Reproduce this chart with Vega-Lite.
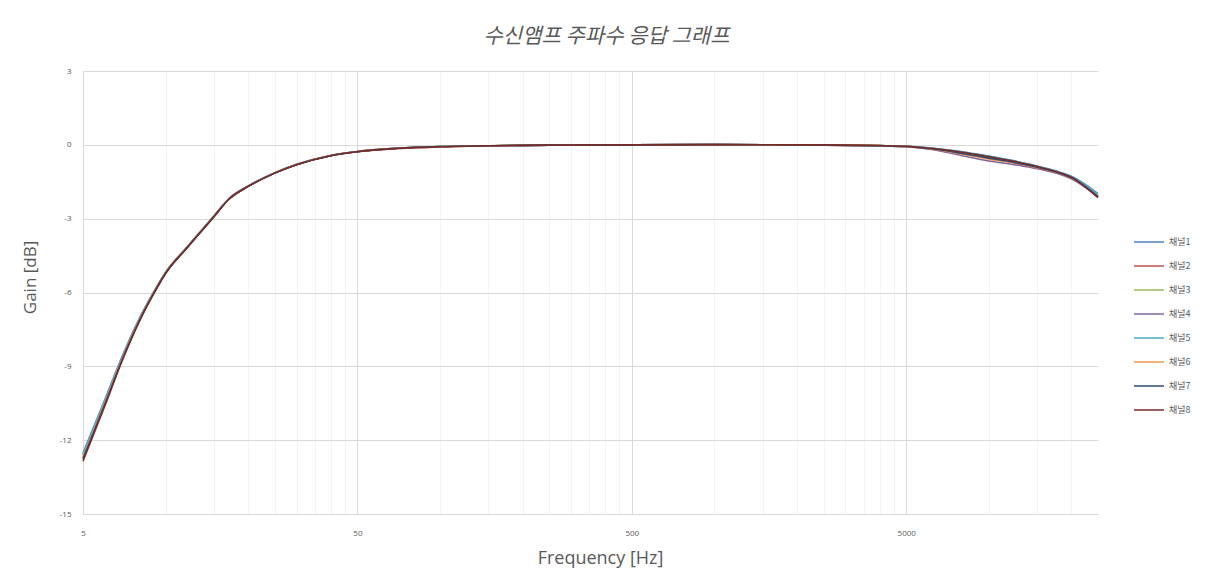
{
  "$schema": "https://vega.github.io/schema/vega-lite/v6.json",
  "width": 1015,
  "height": 443,
  "autosize": "none",
  "padding": {"left": 83, "top": 71, "right": 107, "bottom": 59},
  "background": "white",
  "config": {"view": {"stroke": null}, "font": "Open Sans"},
  "title": {
    "text": "수신앰프 주파수 응답 그래프",
    "font": "Noto Sans CJK KR",
    "fontSize": 21,
    "fontStyle": "italic",
    "fontWeight": "normal",
    "color": "#595959",
    "anchor": "middle",
    "baseline": "bottom",
    "offset": -1,
    "dx": 16
  },
  "data": {"values": [
    {"ch":"채널1","f":5,"g":-12.52},{"ch":"채널1","f":6,"g":-10.36},{"ch":"채널1","f":7,"g":-8.5},{"ch":"채널1","f":8,"g":-7.08},{"ch":"채널1","f":9,"g":-6.02},{"ch":"채널1","f":10,"g":-5.17},{"ch":"채널1","f":12,"g":-4.13},{"ch":"채널1","f":15,"g":-2.88},{"ch":"채널1","f":17,"g":-2.18},{"ch":"채널1","f":20,"g":-1.67},{"ch":"채널1","f":25,"g":-1.13},{"ch":"채널1","f":30,"g":-0.79},{"ch":"채널1","f":40,"g":-0.43},{"ch":"채널1","f":50,"g":-0.27},{"ch":"채널1","f":70,"g":-0.14},{"ch":"채널1","f":100,"g":-0.07},{"ch":"채널1","f":150,"g":-0.04},{"ch":"채널1","f":200,"g":-0.02},{"ch":"채널1","f":300,"g":-0.01},{"ch":"채널1","f":500,"g":0.0},{"ch":"채널1","f":1000,"g":0.01},{"ch":"채널1","f":2000,"g":0.0},{"ch":"채널1","f":3000,"g":-0.01},{"ch":"채널1","f":4000,"g":-0.03},{"ch":"채널1","f":5000,"g":-0.06},{"ch":"채널1","f":6000,"g":-0.12},{"ch":"채널1","f":7000,"g":-0.2},{"ch":"채널1","f":8000,"g":-0.28},{"ch":"채널1","f":10000,"g":-0.46},{"ch":"채널1","f":12000,"g":-0.62},{"ch":"채널1","f":14000,"g":-0.78},{"ch":"채널1","f":16000,"g":-0.94},{"ch":"채널1","f":18000,"g":-1.1},{"ch":"채널1","f":20000,"g":-1.28},{"ch":"채널1","f":25000,"g":-1.98},
    {"ch":"채널2","f":5,"g":-12.72},{"ch":"채널2","f":6,"g":-10.52},{"ch":"채널2","f":7,"g":-8.62},{"ch":"채널2","f":8,"g":-7.16},{"ch":"채널2","f":9,"g":-6.08},{"ch":"채널2","f":10,"g":-5.21},{"ch":"채널2","f":12,"g":-4.16},{"ch":"채널2","f":15,"g":-2.91},{"ch":"채널2","f":17,"g":-2.21},{"ch":"채널2","f":20,"g":-1.69},{"ch":"채널2","f":25,"g":-1.15},{"ch":"채널2","f":30,"g":-0.81},{"ch":"채널2","f":40,"g":-0.44},{"ch":"채널2","f":50,"g":-0.28},{"ch":"채널2","f":70,"g":-0.15},{"ch":"채널2","f":100,"g":-0.08},{"ch":"채널2","f":150,"g":-0.04},{"ch":"채널2","f":200,"g":-0.02},{"ch":"채널2","f":300,"g":-0.01},{"ch":"채널2","f":500,"g":0.0},{"ch":"채널2","f":1000,"g":0.01},{"ch":"채널2","f":2000,"g":0.0},{"ch":"채널2","f":3000,"g":-0.02},{"ch":"채널2","f":4000,"g":-0.04},{"ch":"채널2","f":5000,"g":-0.07},{"ch":"채널2","f":6000,"g":-0.14},{"ch":"채널2","f":7000,"g":-0.22},{"ch":"채널2","f":8000,"g":-0.32},{"ch":"채널2","f":10000,"g":-0.5},{"ch":"채널2","f":12000,"g":-0.66},{"ch":"채널2","f":14000,"g":-0.82},{"ch":"채널2","f":16000,"g":-0.98},{"ch":"채널2","f":18000,"g":-1.14},{"ch":"채널2","f":20000,"g":-1.34},{"ch":"채널2","f":25000,"g":-2.08},
    {"ch":"채널3","f":5,"g":-12.62},{"ch":"채널3","f":6,"g":-10.44},{"ch":"채널3","f":7,"g":-8.56},{"ch":"채널3","f":8,"g":-7.12},{"ch":"채널3","f":9,"g":-6.05},{"ch":"채널3","f":10,"g":-5.19},{"ch":"채널3","f":12,"g":-4.15},{"ch":"채널3","f":15,"g":-2.9},{"ch":"채널3","f":17,"g":-2.2},{"ch":"채널3","f":20,"g":-1.68},{"ch":"채널3","f":25,"g":-1.14},{"ch":"채널3","f":30,"g":-0.8},{"ch":"채널3","f":40,"g":-0.43},{"ch":"채널3","f":50,"g":-0.27},{"ch":"채널3","f":70,"g":-0.14},{"ch":"채널3","f":100,"g":-0.07},{"ch":"채널3","f":150,"g":-0.04},{"ch":"채널3","f":200,"g":-0.02},{"ch":"채널3","f":300,"g":-0.01},{"ch":"채널3","f":500,"g":0.0},{"ch":"채널3","f":1000,"g":0.01},{"ch":"채널3","f":2000,"g":0.0},{"ch":"채널3","f":3000,"g":-0.01},{"ch":"채널3","f":4000,"g":-0.03},{"ch":"채널3","f":5000,"g":-0.06},{"ch":"채널3","f":6000,"g":-0.13},{"ch":"채널3","f":7000,"g":-0.21},{"ch":"채널3","f":8000,"g":-0.31},{"ch":"채널3","f":10000,"g":-0.49},{"ch":"채널3","f":12000,"g":-0.65},{"ch":"채널3","f":14000,"g":-0.81},{"ch":"채널3","f":16000,"g":-0.97},{"ch":"채널3","f":18000,"g":-1.13},{"ch":"채널3","f":20000,"g":-1.33},{"ch":"채널3","f":25000,"g":-2.06},
    {"ch":"채널4","f":5,"g":-12.68},{"ch":"채널4","f":6,"g":-10.48},{"ch":"채널4","f":7,"g":-8.59},{"ch":"채널4","f":8,"g":-7.14},{"ch":"채널4","f":9,"g":-6.07},{"ch":"채널4","f":10,"g":-5.2},{"ch":"채널4","f":12,"g":-4.16},{"ch":"채널4","f":15,"g":-2.91},{"ch":"채널4","f":17,"g":-2.21},{"ch":"채널4","f":20,"g":-1.68},{"ch":"채널4","f":25,"g":-1.14},{"ch":"채널4","f":30,"g":-0.8},{"ch":"채널4","f":40,"g":-0.43},{"ch":"채널4","f":50,"g":-0.27},{"ch":"채널4","f":70,"g":-0.14},{"ch":"채널4","f":100,"g":-0.07},{"ch":"채널4","f":150,"g":-0.04},{"ch":"채널4","f":200,"g":-0.02},{"ch":"채널4","f":300,"g":-0.01},{"ch":"채널4","f":500,"g":0.0},{"ch":"채널4","f":1000,"g":0.01},{"ch":"채널4","f":2000,"g":0.0},{"ch":"채널4","f":3000,"g":-0.02},{"ch":"채널4","f":4000,"g":-0.04},{"ch":"채널4","f":5000,"g":-0.08},{"ch":"채널4","f":6000,"g":-0.17},{"ch":"채널4","f":7000,"g":-0.3},{"ch":"채널4","f":8000,"g":-0.44},{"ch":"채널4","f":10000,"g":-0.66},{"ch":"채널4","f":12000,"g":-0.78},{"ch":"채널4","f":14000,"g":-0.9},{"ch":"채널4","f":16000,"g":-1.04},{"ch":"채널4","f":18000,"g":-1.18},{"ch":"채널4","f":20000,"g":-1.38},{"ch":"채널4","f":25000,"g":-2.12},
    {"ch":"채널5","f":5,"g":-12.58},{"ch":"채널5","f":6,"g":-10.42},{"ch":"채널5","f":7,"g":-8.54},{"ch":"채널5","f":8,"g":-7.1},{"ch":"채널5","f":9,"g":-6.04},{"ch":"채널5","f":10,"g":-5.18},{"ch":"채널5","f":12,"g":-4.14},{"ch":"채널5","f":15,"g":-2.89},{"ch":"채널5","f":17,"g":-2.19},{"ch":"채널5","f":20,"g":-1.67},{"ch":"채널5","f":25,"g":-1.13},{"ch":"채널5","f":30,"g":-0.79},{"ch":"채널5","f":40,"g":-0.43},{"ch":"채널5","f":50,"g":-0.27},{"ch":"채널5","f":70,"g":-0.14},{"ch":"채널5","f":100,"g":-0.07},{"ch":"채널5","f":150,"g":-0.04},{"ch":"채널5","f":200,"g":-0.02},{"ch":"채널5","f":300,"g":-0.01},{"ch":"채널5","f":500,"g":0.0},{"ch":"채널5","f":1000,"g":0.01},{"ch":"채널5","f":2000,"g":0.0},{"ch":"채널5","f":3000,"g":-0.01},{"ch":"채널5","f":4000,"g":-0.03},{"ch":"채널5","f":5000,"g":-0.06},{"ch":"채널5","f":6000,"g":-0.12},{"ch":"채널5","f":7000,"g":-0.21},{"ch":"채널5","f":8000,"g":-0.3},{"ch":"채널5","f":10000,"g":-0.47},{"ch":"채널5","f":12000,"g":-0.63},{"ch":"채널5","f":14000,"g":-0.79},{"ch":"채널5","f":16000,"g":-0.95},{"ch":"채널5","f":18000,"g":-1.11},{"ch":"채널5","f":20000,"g":-1.3},{"ch":"채널5","f":25000,"g":-2.0},
    {"ch":"채널6","f":5,"g":-12.7},{"ch":"채널6","f":6,"g":-10.5},{"ch":"채널6","f":7,"g":-8.6},{"ch":"채널6","f":8,"g":-7.15},{"ch":"채널6","f":9,"g":-6.07},{"ch":"채널6","f":10,"g":-5.2},{"ch":"채널6","f":12,"g":-4.15},{"ch":"채널6","f":15,"g":-2.9},{"ch":"채널6","f":17,"g":-2.2},{"ch":"채널6","f":20,"g":-1.68},{"ch":"채널6","f":25,"g":-1.14},{"ch":"채널6","f":30,"g":-0.8},{"ch":"채널6","f":40,"g":-0.43},{"ch":"채널6","f":50,"g":-0.27},{"ch":"채널6","f":70,"g":-0.14},{"ch":"채널6","f":100,"g":-0.07},{"ch":"채널6","f":150,"g":-0.04},{"ch":"채널6","f":200,"g":-0.02},{"ch":"채널6","f":300,"g":-0.01},{"ch":"채널6","f":500,"g":0.0},{"ch":"채널6","f":1000,"g":0.01},{"ch":"채널6","f":2000,"g":0.0},{"ch":"채널6","f":3000,"g":-0.01},{"ch":"채널6","f":4000,"g":-0.03},{"ch":"채널6","f":5000,"g":-0.07},{"ch":"채널6","f":6000,"g":-0.15},{"ch":"채널6","f":7000,"g":-0.26},{"ch":"채널6","f":8000,"g":-0.38},{"ch":"채널6","f":10000,"g":-0.58},{"ch":"채널6","f":12000,"g":-0.72},{"ch":"채널6","f":14000,"g":-0.86},{"ch":"채널6","f":16000,"g":-1.0},{"ch":"채널6","f":18000,"g":-1.15},{"ch":"채널6","f":20000,"g":-1.35},{"ch":"채널6","f":25000,"g":-2.09},
    {"ch":"채널7","f":5,"g":-12.76},{"ch":"채널7","f":6,"g":-10.55},{"ch":"채널7","f":7,"g":-8.64},{"ch":"채널7","f":8,"g":-7.18},{"ch":"채널7","f":9,"g":-6.09},{"ch":"채널7","f":10,"g":-5.22},{"ch":"채널7","f":12,"g":-4.17},{"ch":"채널7","f":15,"g":-2.92},{"ch":"채널7","f":17,"g":-2.21},{"ch":"채널7","f":20,"g":-1.69},{"ch":"채널7","f":25,"g":-1.15},{"ch":"채널7","f":30,"g":-0.81},{"ch":"채널7","f":40,"g":-0.44},{"ch":"채널7","f":50,"g":-0.28},{"ch":"채널7","f":70,"g":-0.14},{"ch":"채널7","f":100,"g":-0.07},{"ch":"채널7","f":150,"g":-0.04},{"ch":"채널7","f":200,"g":-0.02},{"ch":"채널7","f":300,"g":-0.01},{"ch":"채널7","f":500,"g":0.0},{"ch":"채널7","f":1000,"g":0.01},{"ch":"채널7","f":2000,"g":0.0},{"ch":"채널7","f":3000,"g":-0.02},{"ch":"채널7","f":4000,"g":-0.04},{"ch":"채널7","f":5000,"g":-0.07},{"ch":"채널7","f":6000,"g":-0.15},{"ch":"채널7","f":7000,"g":-0.24},{"ch":"채널7","f":8000,"g":-0.35},{"ch":"채널7","f":10000,"g":-0.54},{"ch":"채널7","f":12000,"g":-0.69},{"ch":"채널7","f":14000,"g":-0.84},{"ch":"채널7","f":16000,"g":-0.99},{"ch":"채널7","f":18000,"g":-1.14},{"ch":"채널7","f":20000,"g":-1.34},{"ch":"채널7","f":25000,"g":-2.1},
    {"ch":"채널8","f":5,"g":-12.85},{"ch":"채널8","f":6,"g":-10.62},{"ch":"채널8","f":7,"g":-8.68},{"ch":"채널8","f":8,"g":-7.2},{"ch":"채널8","f":9,"g":-6.1},{"ch":"채널8","f":10,"g":-5.23},{"ch":"채널8","f":12,"g":-4.17},{"ch":"채널8","f":15,"g":-2.92},{"ch":"채널8","f":17,"g":-2.21},{"ch":"채널8","f":20,"g":-1.69},{"ch":"채널8","f":25,"g":-1.15},{"ch":"채널8","f":30,"g":-0.81},{"ch":"채널8","f":40,"g":-0.44},{"ch":"채널8","f":50,"g":-0.28},{"ch":"채널8","f":70,"g":-0.15},{"ch":"채널8","f":100,"g":-0.08},{"ch":"채널8","f":150,"g":-0.04},{"ch":"채널8","f":200,"g":-0.02},{"ch":"채널8","f":300,"g":-0.01},{"ch":"채널8","f":500,"g":0.0},{"ch":"채널8","f":1000,"g":0.01},{"ch":"채널8","f":2000,"g":0.0},{"ch":"채널8","f":3000,"g":-0.01},{"ch":"채널8","f":4000,"g":-0.03},{"ch":"채널8","f":5000,"g":-0.06},{"ch":"채널8","f":6000,"g":-0.13},{"ch":"채널8","f":7000,"g":-0.21},{"ch":"채널8","f":8000,"g":-0.3},{"ch":"채널8","f":10000,"g":-0.48},{"ch":"채널8","f":12000,"g":-0.64},{"ch":"채널8","f":14000,"g":-0.8},{"ch":"채널8","f":16000,"g":-0.96},{"ch":"채널8","f":18000,"g":-1.12},{"ch":"채널8","f":20000,"g":-1.32},{"ch":"채널8","f":25000,"g":-2.15}
  ]},
  "mark": {"type": "line", "strokeWidth": 1.6, "interpolate": "monotone"},
  "encoding": {
    "x": {
      "field": "f",
      "type": "quantitative",
      "scale": {"type": "log", "domain": [5, 25000], "nice": false},
      "axis": {
        "title": "Frequency [Hz]",
        "titleFont": "Open Sans",
        "titleFontSize": 18,
        "titleFontWeight": "normal",
        "titleColor": "#595959",
        "titlePadding": 12,
        "titleX": 517,
        "values": [5, 10, 15, 20, 25, 30, 35, 40, 45, 50, 100, 150, 200, 250, 300, 350, 400, 450, 500, 1000, 1500, 2000, 2500, 3000, 3500, 4000, 4500, 5000, 10000, 15000, 20000],
        "labelExpr": "indexof([5,50,500,5000], datum.value) >= 0 ? '' + datum.value : ''",
        "labelFontSize": 8,
        "labelColor": "#595959",
        "labelPadding": 15,
        "labelFlush": false,
        "labelOverlap": false,
        "ticks": false,
        "tickSize": 0,
        "domain": true,
        "domainColor": "#D9D9D9",
        "gridColor": {"condition": {"test": "indexof([5,50,500,5000], datum.value) >= 0", "value": "#D9D9D9"}, "value": "#F3F3F3"},
        "gridWidth": 1
      }
    },
    "y": {
      "field": "g",
      "type": "quantitative",
      "scale": {"domain": [-15, 3], "nice": false, "zero": false},
      "axis": {
        "title": "Gain [dB]",
        "titleFont": "Open Sans",
        "titleFontSize": 17,
        "titleFontWeight": "normal",
        "titleColor": "#595959",
        "titleX": -44,
        "titleY": 206,
        "titleAngle": -90,
        "titleAlign": "center",
        "titleBaseline": "bottom",
        "values": [-15, -12, -9, -6, -3, 0, 3],
        "labelExpr": "'' + datum.value",
        "labelFontSize": 8,
        "labelColor": "#595959",
        "labelPadding": 12,
        "ticks": false,
        "tickSize": 0,
        "domain": false,
        "gridColor": "#D9D9D9"
      }
    },
    "color": {
      "field": "ch",
      "type": "nominal",
      "scale": {
        "domain": ["채널1", "채널2", "채널3", "채널4", "채널5", "채널6", "채널7", "채널8"],
        "range": ["#4F81BD", "#C0504D", "#9BBB59", "#8064A2", "#4BACC6", "#F79646", "#2C4D75", "#772C2A"]
      },
      "legend": {
        "title": null,
        "orient": "none",
        "legendX": 1050,
        "legendY": 155,
        "padding": 0,
        "symbolType": "stroke",
        "symbolSize": 900,
        "symbolStrokeWidth": 1.5,
        "labelFont": "Noto Sans CJK KR",
        "labelFontSize": 9,
        "labelColor": "#595959",
        "labelOffset": 4,
        "rowPadding": 3
      }
    }
  }
}
